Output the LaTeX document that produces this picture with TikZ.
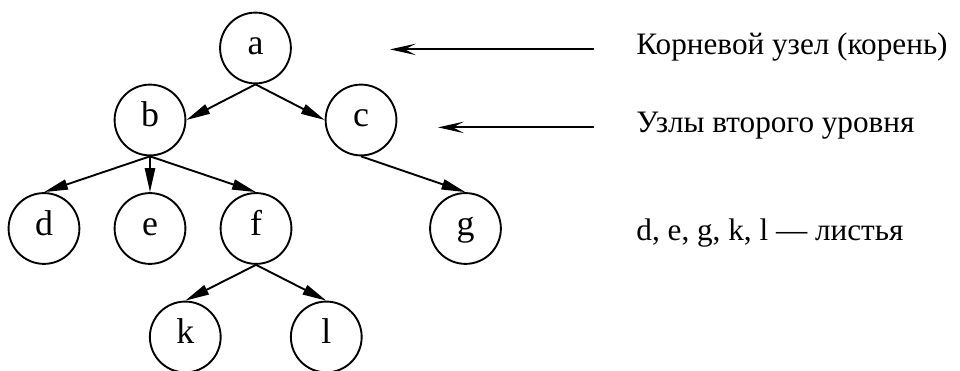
\documentclass[tikz,border=0pt]{standalone}
\usepackage{fontspec}
\setmainfont{Liberation Serif}
\usetikzlibrary{arrows.meta}

\begin{document}
\begin{tikzpicture}[
  font=\fontsize{14.8}{18}\selectfont,
  vert/.style={draw,circle,line width=0.9pt,minimum size=1.18cm,inner sep=0pt,
    font=\fontsize{17}{20}\selectfont,text height=0.82em,text depth=0.18em},
  arr/.style={-{Triangle[length=4mm,width=1.7mm]},line width=0.9pt},
  pointer/.style={-{Stealth[length=4.3mm,width=1.9mm,inset=1.8mm]},line width=0.9pt,shorten <=7mm},
  note/.style={anchor=west,inner sep=0pt,text height=0.68em,text depth=0.22em}
]
\useasboundingbox (0,0) rectangle (16,6.1833);
% tree
\node[vert] (a) at (4.258,5.383) {a};
\node[vert] (b) at (2.5,4.183) {b};
\node[vert] (c) at (6.017,4.183) {c};
\node[vert] (d) at (0.733,2.375) {d};
\node[vert] (e) at (2.5,2.375) {e};
\node[vert] (f) at (4.267,2.375) {f};
\node[vert] (g) at (7.758,2.375) {g};
\node[vert] (k) at (3.088,0.567) {k};
\node[vert] (l) at (5.438,0.567) {l};
\draw[arr] (a.south) -- (b.east);
\draw[arr] (a.south) -- (c.west);
\draw[arr] (b.south) -- (d.north);
\draw[arr] (b.south) -- (e.north);
\draw[arr] (b.south) -- (f.north);
\draw[arr] (c.south) -- (g.north);
\draw[arr] (f.south) -- (k.north);
\draw[arr] (f.south) -- (l.north);
% legend on the right
\node[note] (root) at (10.6,5.36) {Корневой узел (корень)};
\node[note] (second) at (10.6,4.06) {Узлы второго уровня};
\node[note] (leaves) at (10.6,2.26) {d, e, g, k, l — листья};
\coordinate (roottip) at (root.west -| 6.5,0);
\coordinate (secondtip) at (second.west -| 7.3,0);
\draw[pointer] (root.west) -- (roottip);
\draw[pointer] (second.west) -- (secondtip);
\end{tikzpicture}
\end{document}
